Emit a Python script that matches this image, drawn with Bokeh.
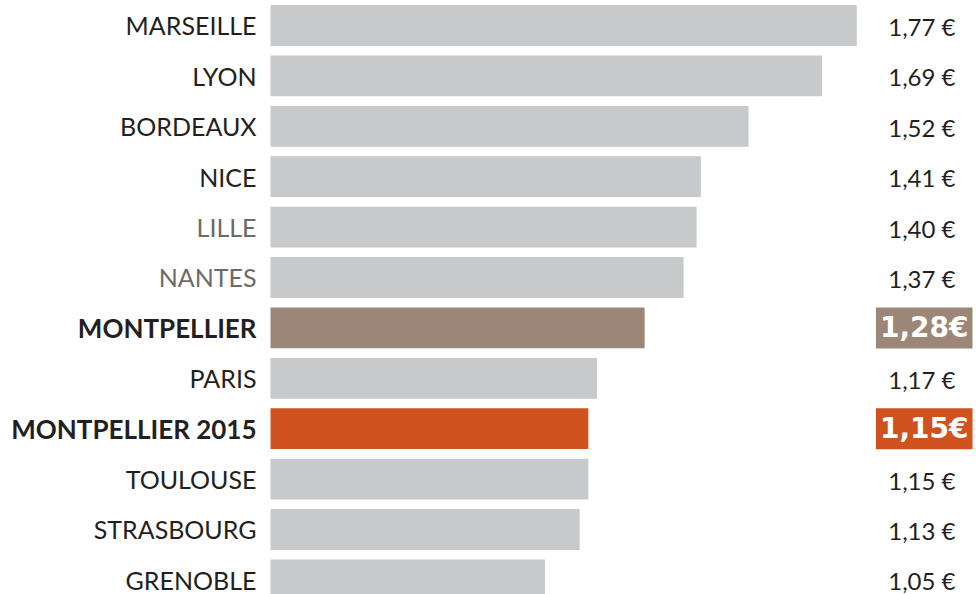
from bokeh.plotting import figure
from bokeh.models import ColumnDataSource, Range1d
from bokeh.core.properties import value
from bokeh.embed import file_html
from bokeh.resources import INLINE

# ---- data ----
cities = ["MARSEILLE", "LYON", "BORDEAUX", "NICE", "LILLE", "NANTES",
          "MONTPELLIER", "PARIS", "MONTPELLIER 2015", "TOULOUSE",
          "STRASBOURG", "GRENOBLE"]
prices = [1.77, 1.69, 1.52, 1.41, 1.40, 1.37, 1.28, 1.17, 1.15, 1.15, 1.13, 1.05]
price_labels = ["1,77 €", "1,69 €", "1,52 €", "1,41 €", "1,40 €", "1,37 €",
                "1,28€", "1,17 €", "1,15€", "1,15 €", "1,13 €", "1,05 €"]
highlight = ["", "", "", "", "", "", "current", "", "2015", "", "", ""]

BASE = 0.416  # axis start of the bars (truncated axis)

GREY = "#c8c9cb"
BROWN = "#9c8677"
ORANGE = "#d0521f"
DARK = "#231f20"
LIGHT = "#6b6b6b"

bar_colors, name_colors, val_bg = [], [], []
for c, h in zip(cities, highlight):
    if h == "current":
        bar_colors.append(BROWN)
    elif h == "2015":
        bar_colors.append(ORANGE)
    else:
        bar_colors.append(GREY)
    name_colors.append(LIGHT if c in ("LILLE", "NANTES") else DARK)
    val_bg.append(BROWN if h == "current" else (ORANGE if h == "2015" else None))

ypos = list(range(len(cities)))

src = ColumnDataSource(dict(y=ypos, city=cities, price=prices,
                            bar_color=bar_colors,
                            base=[BASE] * len(cities)))

X_START, X_END = -0.2076, 2.0465
p = figure(width=976, height=594, output_backend="svg", toolbar_location=None,
           x_range=Range1d(X_START, X_END), y_range=Range1d(11.29, -0.496),
           min_border=0)
p.axis.visible = False
p.grid.visible = False
p.outline_line_color = None

p.hbar(y="y", left="base", right="price", height=0.81, color="bar_color",
       line_color=None, source=src)

reg_idx = [i for i, h in enumerate(highlight) if not h]
hi_idx = [i for i, h in enumerate(highlight) if h]

# category labels
src_cr = ColumnDataSource(dict(y=[ypos[i] for i in reg_idx],
                               city=[cities[i] for i in reg_idx],
                               col=[name_colors[i] for i in reg_idx],
                               x=[BASE] * len(reg_idx)))
p.text(x="x", y="y", text="city", source=src_cr, x_offset=-14,
       text_align="right", text_baseline="middle", text_color="col",
       text_font=value("Lato"), text_font_size="25px")

src_cb = ColumnDataSource(dict(y=[ypos[i] for i in hi_idx],
                               city=[cities[i] for i in hi_idx],
                               x=[BASE] * len(hi_idx)))
p.text(x="x", y="y", text="city", source=src_cb, x_offset=-14,
       text_align="right", text_baseline="middle", text_color=DARK,
       text_font=value("Lato"), text_font_size="26px", text_font_style="bold")

# value labels
src_n = ColumnDataSource(dict(y=[ypos[i] for i in reg_idx],
                              lab=[price_labels[i] for i in reg_idx],
                              x=[X_END] * len(reg_idx)))
p.text(x="x", y="y", text="lab", source=src_n, x_offset=-21, y_offset=1,
       text_align="right", text_baseline="middle", text_color=DARK,
       text_font=value("Lato"), text_font_size="24px")

src_h = ColumnDataSource(dict(y=[ypos[i] for i in hi_idx],
                              lab=[price_labels[i] for i in hi_idx],
                              bg=[val_bg[i] for i in hi_idx],
                              x=[X_END] * len(hi_idx)))
p.text(x="x", y="y", text="lab", source=src_h, x_offset=-4,
       text_align="right", text_baseline="middle", text_color="white",
       text_font=value("DejaVu Sans"), text_font_size="28px", text_font_style="bold",
       background_fill_color="bg", padding=4)

open("out.html", "w").write(file_html(p, INLINE))
